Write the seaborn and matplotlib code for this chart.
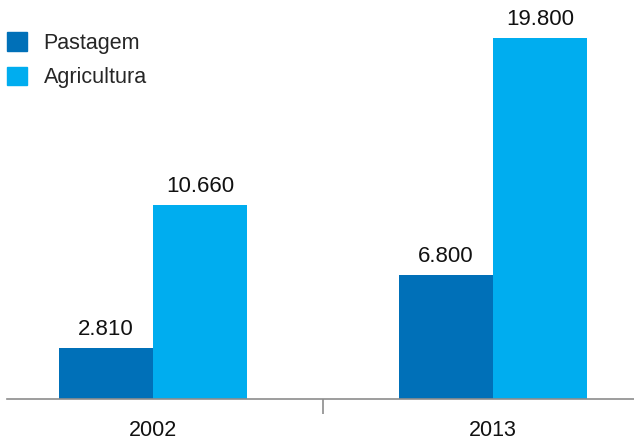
import pandas as pd
import matplotlib
matplotlib.use("Agg")
import matplotlib.pyplot as plt
import seaborn as sns

# ------------------------------ DATA ------------------------------
anos = ["2002", "2013"]
pastagem = [2810, 6800]
agricultura = [10660, 19800]
series = ["Pastagem", "Agricultura"]
cores = ["#0070B8", "#00ADEF"]

df = pd.DataFrame({
    "ano": anos * 2,
    "uso": [series[0]] * 2 + [series[1]] * 2,
    "valor": pastagem + agricultura,
})

# ------------------------------ PLOT ------------------------------
sns.set_style("white")
plt.rcParams["font.family"] = ["Liberation Sans", "DejaVu Sans"]

W, H = 634, 443
fig = plt.figure(figsize=(W / 100, H / 100), dpi=100)
ax = fig.add_axes([7 / W, 44 / H, (W - 7) / W, 399 / H])

sns.barplot(data=df, x="ano", y="valor", hue="uso", palette=cores,
            width=0.553, saturation=1, linewidth=0, ax=ax, legend=False)

ax.set_xlim(-0.43, 1.415)
ax.set_ylim(0, 21900)

def fmt(v):
    return f"{v:,}".replace(",", ".")

for cont in ax.containers:
    for bar, v in zip(cont, cont.datavalues):
        ax.annotate(fmt(int(v)), (bar.get_x() + bar.get_width() / 2, bar.get_height()),
                    xytext=(0, 8), textcoords="offset pixels",
                    ha="center", va="bottom", fontsize=16, color="#111111")

for s in ["top", "right", "left"]:
    ax.spines[s].set_visible(False)
ax.spines["bottom"].set_color("#8c8c8c")
ax.spines["bottom"].set_linewidth(1.2)
ax.set_yticks([])
ax.set_xlabel("")
ax.set_ylabel("")

# category labels and the single divider tick
ax.set_xticks([0.5])
ax.set_xticklabels([""])
ax.tick_params(axis="x", length=10.5, width=1.2, color="#8c8c8c", bottom=True)
for i, a in enumerate(anos):
    ax.text(i, -32 / 399, a, transform=ax.get_xaxis_transform(), ha="center", va="center",
            fontsize=15.5, color="#111111")

handles = [plt.Rectangle((0, 0), 1, 1, color=c) for c in cores]
fig.legend(handles, series, loc="upper left", bbox_to_anchor=(7 / W, 1 - 32 / H),
           frameon=False, fontsize=15.5, handlelength=0.95, handleheight=0.95,
           handletextpad=0.75, labelspacing=0.6, borderaxespad=0, borderpad=0)

fig.savefig("out.png", dpi=100)
